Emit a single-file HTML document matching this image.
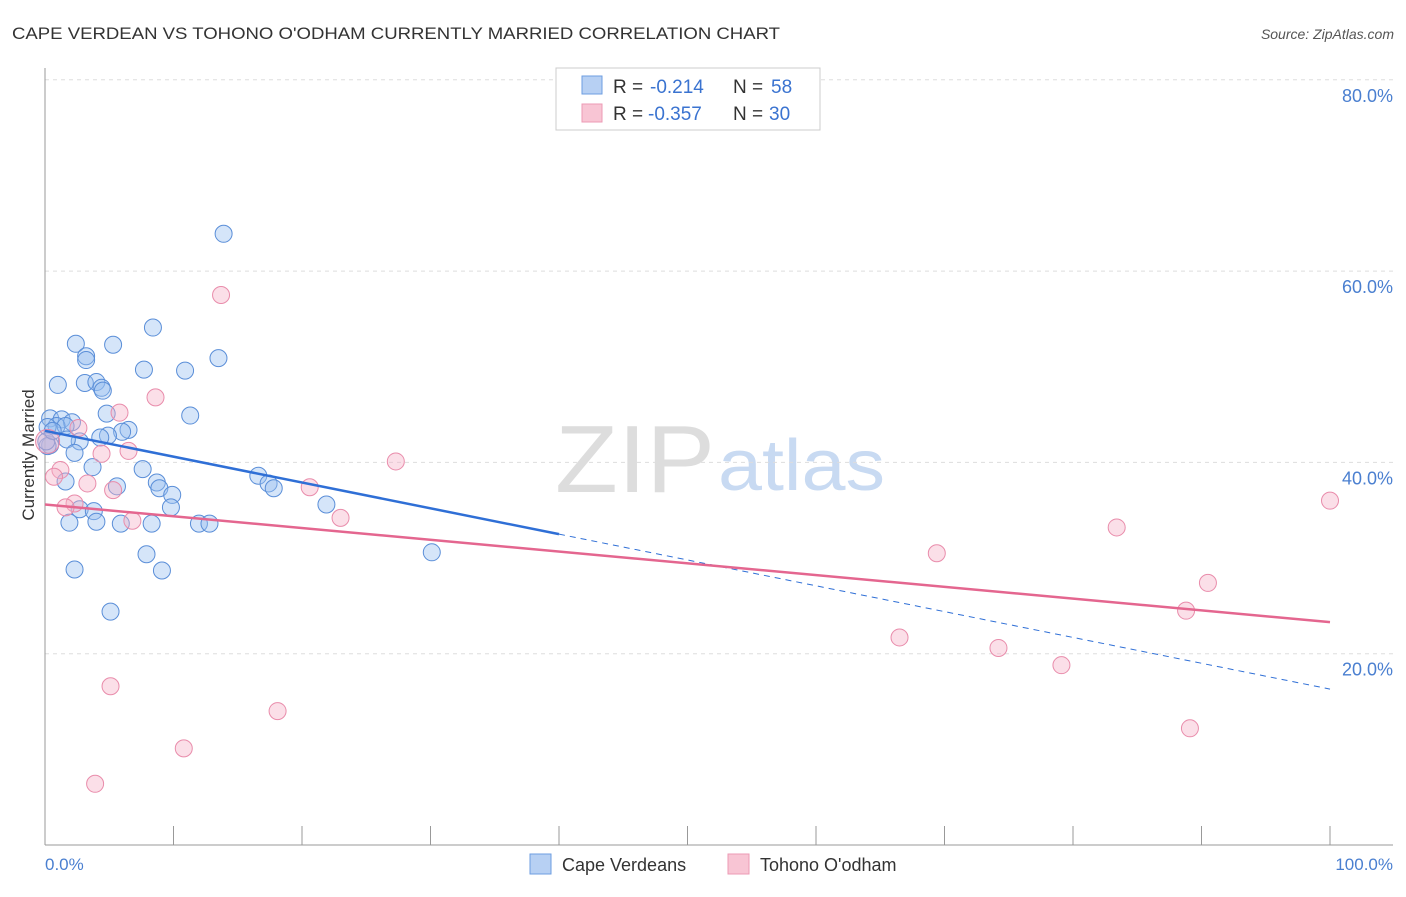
<!DOCTYPE html>
<html><head><meta charset="utf-8"><style>
body{margin:0;background:#fff;font-family:"Liberation Sans",sans-serif;}
svg text{font-family:"Liberation Sans",sans-serif;}
</style></head><body>
<svg id="chart" width="1406" height="892">
<text x="12" y="39" font-size="17" fill="#333" textLength="768" lengthAdjust="spacingAndGlyphs">CAPE VERDEAN VS TOHONO O'ODHAM CURRENTLY MARRIED CORRELATION CHART</text>
<text x="1394" y="39" font-size="14" fill="#555" text-anchor="end" font-style="italic">Source: ZipAtlas.com</text>
<text x="555" y="492" font-size="96" fill="#ddd" font-family="Liberation Serif" textLength="160" lengthAdjust="spacingAndGlyphs">ZIP</text>
<text x="718" y="490" font-size="72" fill="#c8daf2" textLength="167" lengthAdjust="spacingAndGlyphs">atlas</text>
<g id="grid"></g>
<g id="axes"></g>
<g id="pts"></g>
<g id="lines"></g>
<text transform="translate(34,455) rotate(-90)" font-size="17" fill="#333" text-anchor="middle">Currently Married</text>
<text x="45" y="870" font-size="17" fill="#4a7fd0">0.0%</text>
<text x="1393" y="870" font-size="17" fill="#4a7fd0" text-anchor="end">100.0%</text>
<g>
<rect x="556" y="68" width="264" height="62" fill="#fff" stroke="#ccc"/>
<rect x="582" y="76" width="20" height="18" fill="#b7d0f3" stroke="#6e9ee0"/>
<rect x="582" y="104" width="20" height="18" fill="#f8c5d4" stroke="#ec9ab4"/>
<text x="613" y="93" font-size="19" fill="#333">R =</text>
<text x="650" y="93" font-size="19" fill="#3a73d0">-0.214</text>
<text x="733" y="93" font-size="19" fill="#333">N =</text>
<text x="771" y="93" font-size="19" fill="#3a73d0">58</text>
<text x="613" y="120" font-size="19" fill="#333">R =</text>
<text x="648" y="120" font-size="19" fill="#3a73d0">-0.357</text>
<text x="733" y="120" font-size="19" fill="#333">N =</text>
<text x="769" y="120" font-size="19" fill="#3a73d0">30</text>
</g>
<g>
<rect x="530" y="854" width="21" height="20" fill="#b7d0f3" stroke="#6e9ee0"/>
<text x="562" y="871" font-size="18" fill="#333">Cape Verdeans</text>
<rect x="728" y="854" width="21" height="20" fill="#f8c5d4" stroke="#ec9ab4"/>
<text x="760" y="871" font-size="18" fill="#333">Tohono O'odham</text>
</g>
</svg>
<script>
const yTicks=[20,40,60,80];
const xTickVals=[0,10,20,30,40,50,60,70,80,90,100];
const blueX=[13.9,8.4,2.4,5.3,3.2,3.2,13.5,7.7,10.9,1.0,3.1,4.0,4.4,4.5,4.8,11.3,0.4,1.3,2.1,0.9,1.6,0.2,6.5,6.0,4.9,4.3,2.7,1.7,0.4,2.3,3.7,7.6,16.6,8.7,5.6,17.4,17.8,8.9,9.9,9.8,21.9,1.6,2.7,3.8,4.0,1.9,5.9,8.3,11.98,12.8,7.9,30.1,2.3,9.1,5.1,0.2,0.1,0.6];
const blueY=[63.9,54.1,52.4,52.3,51.1,50.7,50.9,49.7,49.6,48.1,48.3,48.4,47.8,47.5,45.1,44.9,44.6,44.5,44.2,43.8,43.8,43.7,43.4,43.2,42.8,42.6,42.2,42.4,41.8,41.0,39.5,39.3,38.6,37.9,37.5,37.8,37.3,37.3,36.6,35.3,35.6,38.0,35.1,34.9,33.8,33.7,33.6,33.6,33.6,33.6,30.4,30.6,28.8,28.7,24.4,41.7,42.2,43.3];
const pinkX=[13.7,8.6,5.8,2.6,6.5,4.4,27.3,1.2,0.7,3.3,5.3,20.6,2.3,1.6,23.0,6.8,100,83.4,69.4,90.5,88.8,66.5,74.2,79.1,5.1,18.1,10.8,89.1,3.9,0.2];
const pinkY=[57.5,46.8,45.2,43.6,41.2,40.9,40.1,39.2,38.5,37.8,37.1,37.4,35.7,35.3,34.2,33.9,36.0,33.2,30.5,27.4,24.5,21.7,20.6,18.8,16.6,14.0,10.1,12.2,6.4,42.2];
const blueTrend=[43.3,16.3];
const pinkTrend=[35.6,23.3];
const X=v=>45+v*12.85, Y=v=>845-v*9.565;
const NS='http://www.w3.org/2000/svg';
function mk(p,t,a){const e=document.createElementNS(NS,t);for(const k in a)e.setAttribute(k,a[k]);p.appendChild(e);return e;}
const grid=document.getElementById('grid'),axes=document.getElementById('axes'),pts=document.getElementById('pts'),lines=document.getElementById('lines');
yTicks.forEach(v=>{
 const l=mk(grid,'line',{x1:45,x2:1393,y1:Y(v),y2:Y(v),stroke:'#ddd','stroke-dasharray':'4,4'});
 
 
 const t=mk(grid,'text',{x:1393,y:Y(v)+22,'font-size':18,fill:'#4a7fd0','text-anchor':'end'});
 t.textContent=v.toFixed(1)+'%';
 
 
});
mk(axes,'line',{x1:45,x2:45,y1:68,y2:845,stroke:'#999'});
mk(axes,'line',{x1:45,x2:1393,y1:845,y2:845,stroke:'#999'});
xTickVals.forEach(v=>{
 const l=mk(axes,'line',{x1:X(v),x2:X(v),y1:826,y2:845,stroke:'#999'});
 
 
});
blueX.forEach((v,i)=>{
 const c=mk(pts,'circle',{cx:X(v),cy:Y(blueY[i]),r:8.5,fill:'rgba(150,190,240,0.4)',stroke:'#5a8ed8','stroke-width':1});
 
 
});
pinkX.forEach((v,i)=>{
 const c=mk(pts,'circle',{cx:X(v),cy:Y(pinkY[i]),r:i==29?12:8.5,fill:'rgba(245,175,198,0.4)',stroke:'#e98cab','stroke-width':1});
 
 
});
const by=x=>blueTrend[0]+(blueTrend[1]-blueTrend[0])*x/100;
const b1=mk(lines,'line',{x1:X(0),y1:Y(by(0)),x2:X(40),y2:Y(by(40)),stroke:'#2f6fd6','stroke-width':2.5});


const b2=mk(lines,'line',{x1:X(40),y1:Y(by(40)),x2:X(100),y2:Y(by(100)),stroke:'#2f6fd6','stroke-width':1,'stroke-dasharray':'6,5'});


const p1=mk(lines,'line',{x1:X(0),y1:Y(pinkTrend[0]),x2:X(100),y2:Y(pinkTrend[1]),stroke:'#e4668f','stroke-width':2.5});


</script>
</body></html>
